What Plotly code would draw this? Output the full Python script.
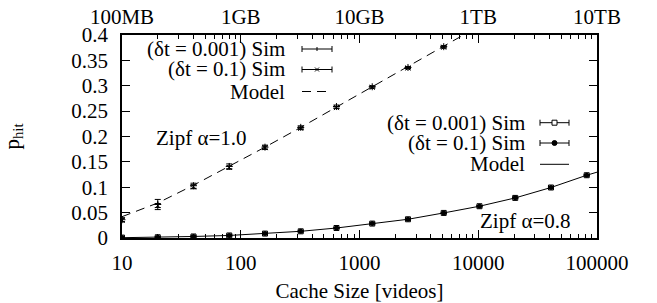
import plotly.graph_objects as go

# ---------------- data ----------------
x_a10 = [10, 20, 40, 80, 160, 320, 640, 1280, 2560, 5120]
sim_a10_dt0001 = [0.036, 0.066, 0.103, 0.141, 0.179, 0.218, 0.259, 0.298, 0.336, 0.377]
err_a10_dt0001 = [0.004, 0.010, 0.005, 0.005, 0.004, 0.003, 0.003, 0.002, 0.002, 0.002]
sim_a10_dt01 = [0.035, 0.064, 0.101, 0.139, 0.178, 0.216, 0.257, 0.297, 0.335, 0.376]
err_a10_dt01 = [0.003, 0.004, 0.004, 0.003, 0.003, 0.002, 0.002, 0.002, 0.002, 0.002]
x_model_a10 = [10, 20, 40, 80, 160, 320, 640, 1280, 2560, 5120, 10240]
model_a10 = [0.042, 0.069, 0.104, 0.141, 0.179, 0.218, 0.258, 0.298, 0.337, 0.377, 0.418]

x_a08 = [10, 20, 40, 80, 160, 320, 640, 1280, 2560, 5120, 10240, 20480, 40960, 81920]
sim_a08_dt0001 = [0.0008, 0.0015, 0.003, 0.005, 0.0087, 0.0132, 0.0197, 0.0284, 0.0369, 0.0494, 0.0626, 0.079, 0.0995, 0.1237]
err_a08_dt0001 = [0.001] * 14
sim_a08_dt01 = [0.0008, 0.0016, 0.0031, 0.0051, 0.0088, 0.0133, 0.0198, 0.0285, 0.037, 0.0495, 0.0627, 0.0792, 0.0997, 0.1238]
err_a08_dt01 = [0.001] * 14
x_model_a08 = [10, 20, 40, 80, 160, 320, 640, 1280, 2560, 5120, 10240, 20480, 40960, 81920, 100000]
model_a08 = [0.0006, 0.0015, 0.003, 0.005, 0.0087, 0.0132, 0.0197, 0.0284, 0.0369, 0.0494, 0.0626, 0.079, 0.0995, 0.1237, 0.1297]

bottom_ticks = [10, 100, 1000, 10000, 100000]
bottom_labels = ["10", "100", "1000", "10000", "100000"]
top_labels = ["100MB", "1GB", "10GB", "1TB", "10TB"]

FONT = "Liberation Serif"
FS = 21
W, H = 657, 303
OFF = 8  # default page margin of the browser body
L, R, T, B = 122, 597, 35, 238
PW, PH = R - L, B - T


def px(xp):
    return (xp - L) / PW


def py(yp):
    return (B - yp) / PH


fig = go.Figure()

eb = lambda arr: dict(type="data", array=arr, color="black", thickness=1, width=3)

fig.add_trace(go.Scatter(x=x_model_a10, y=model_a10, mode="lines",
                         line=dict(color="black", width=1, dash="9px,6px"), name="Model α=1.0"))
fig.add_trace(go.Scatter(x=x_a10, y=sim_a10_dt0001, mode="markers", error_y=eb(err_a10_dt0001),
                         marker=dict(symbol="cross-thin", size=5, color="black",
                                     line=dict(color="black", width=1)), name="(δt = 0.001) Sim α=1.0"))
fig.add_trace(go.Scatter(x=x_a10, y=sim_a10_dt01, mode="markers", error_y=eb(err_a10_dt01),
                         marker=dict(symbol="x-thin", size=5, color="black",
                                     line=dict(color="black", width=1)), name="(δt = 0.1) Sim α=1.0"))
fig.add_trace(go.Scatter(x=x_model_a08, y=model_a08, mode="lines",
                         line=dict(color="black", width=1), name="Model α=0.8"))
fig.add_trace(go.Scatter(x=x_a08, y=sim_a08_dt0001, mode="markers", error_y=eb(err_a08_dt0001),
                         marker=dict(symbol="square-open", size=5, color="black",
                                     line=dict(color="black", width=1)), name="(δt = 0.001) Sim α=0.8"))
fig.add_trace(go.Scatter(x=x_a08, y=sim_a08_dt01, mode="markers", error_y=eb(err_a08_dt01),
                         marker=dict(symbol="circle", size=5, color="black"), name="(δt = 0.1) Sim α=0.8"))
# anchor trace for the top axis
fig.add_trace(go.Scatter(x=bottom_ticks, y=[None] * len(bottom_ticks), xaxis="x2", mode="lines",
                         showlegend=False, hoverinfo="skip"))

tickfont = dict(family=FONT, size=FS, color="black")

fig.update_layout(
    width=W - OFF, height=H - OFF,
    margin=dict(l=L - OFF, r=W - R, t=T - OFF, b=H - B, pad=0),
    plot_bgcolor="white", paper_bgcolor="white",
    showlegend=False,
    font=dict(family=FONT, size=FS, color="black"),
    xaxis=dict(type="log", range=[1, 5], tickvals=bottom_ticks, ticktext=bottom_labels,
               ticks="inside", ticklen=8, tickwidth=1, tickcolor="black",
               minor=dict(ticks="inside", ticklen=4, tickwidth=1, tickcolor="black", dtick="D1", showgrid=False),
               showline=True, linecolor="black", linewidth=1.5, mirror=True,
               showgrid=False, zeroline=False, tickfont=tickfont, ticklabelstandoff=5,
               title=dict(text="Cache Size [videos]", font=tickfont, standoff=9), automargin=False),
    xaxis2=dict(type="log", range=[1, 5], overlaying="x", side="top", anchor="y",
                tickvals=bottom_ticks, ticktext=top_labels,
                ticks="inside", ticklen=8, tickwidth=1, tickcolor="black",
                minor=dict(ticks="inside", ticklen=4, tickwidth=1, tickcolor="black", dtick="D1", showgrid=False),
                showline=False, showgrid=False, zeroline=False, tickfont=tickfont,
                ticklabelstandoff=6, automargin=False),
    yaxis=dict(range=[0, 0.4], dtick=0.05, tick0=0, ticks="inside", ticklen=8, tickwidth=1,
               tickcolor="black", showline=True, linecolor="black", linewidth=1.5, mirror="ticks",
               showgrid=False, zeroline=False, tickfont=tickfont, ticklabelstandoff=8,
               automargin=False),
)

annotations = []
shapes = []

# y-axis title
annotations.append(dict(text="p<sub>hit</sub>", x=px(12), y=0.5, xref="paper", yref="paper",
                        textangle=-90, showarrow=False, xanchor="center", yanchor="middle",
                        font=dict(family=FONT, size=FS, color="black")))
# Zipf labels
annotations.append(dict(text="Zipf α=1.0", x=px(154), y=py(138), xref="paper", yref="paper",
                        showarrow=False, xanchor="left", yanchor="middle",
                        font=dict(family=FONT, size=FS, color="black")))
annotations.append(dict(text="Zipf α=0.8", x=px(478), y=py(220.7), xref="paper", yref="paper",
                        showarrow=False, xanchor="left", yanchor="middle",
                        font=dict(family=FONT, size=FS, color="black")))


def legend_block(text_right, s0, s1, rows):
    for label, y, kind, mk in rows:
        annotations.append(dict(text=label, x=px(text_right), y=py(y), xref="paper", yref="paper",
                                showarrow=False, xanchor="right", yanchor="middle",
                                font=dict(family=FONT, size=FS, color="black")))
        ln = dict(color="black", width=1)
        if kind == "err":
            shapes.append(dict(type="line", xref="paper", yref="paper", x0=px(s0), x1=px(s1),
                               y0=py(y), y1=py(y), line=ln))
            for xx in (s0, s1):
                shapes.append(dict(type="line", xref="paper", yref="paper", x0=px(xx), x1=px(xx),
                                   y0=py(y - 3), y1=py(y + 3), line=ln))
            xm = (s0 + s1) / 2
            if mk == "square":
                shapes.append(dict(type="rect", xref="paper", yref="paper", x0=px(xm - 2.5), x1=px(xm + 2.5),
                                   y0=py(y - 2.5), y1=py(y + 2.5), line=ln, fillcolor="white"))
            elif mk == "circle":
                shapes.append(dict(type="circle", xref="paper", yref="paper", x0=px(xm - 2.5), x1=px(xm + 2.5),
                                   y0=py(y - 2.5), y1=py(y + 2.5), line=ln, fillcolor="black"))
            elif mk == "plus":
                shapes.append(dict(type="line", xref="paper", yref="paper", x0=px(xm), x1=px(xm),
                                   y0=py(y - 2), y1=py(y + 2), line=ln))
            elif mk == "x":
                shapes.append(dict(type="line", xref="paper", yref="paper", x0=px(xm - 2), x1=px(xm + 2),
                                   y0=py(y - 2), y1=py(y + 2), line=ln))
                shapes.append(dict(type="line", xref="paper", yref="paper", x0=px(xm - 2), x1=px(xm + 2),
                                   y0=py(y + 2), y1=py(y - 2), line=ln))
        else:
            shapes.append(dict(type="line", xref="paper", yref="paper", x0=px(s0), x1=px(s1),
                               y0=py(y), y1=py(y), line=dict(color="black", width=1, dash=mk)))


legend_block(287, 302, 332, [("(δt = 0.001) Sim", 49, "err", "plus"),
                             ("(δt = 0.1) Sim", 69.5, "err", "x"),
                             ("Model", 91.5, "line", "9px,6px")])
legend_block(527, 540, 569, [("(δt = 0.001) Sim", 122.7, "err", "square"),
                             ("(δt = 0.1) Sim", 143, "err", "circle"),
                             ("Model", 164.3, "line", "solid")])

fig.update_layout(annotations=annotations, shapes=shapes)

fig.write_html("out.html")
